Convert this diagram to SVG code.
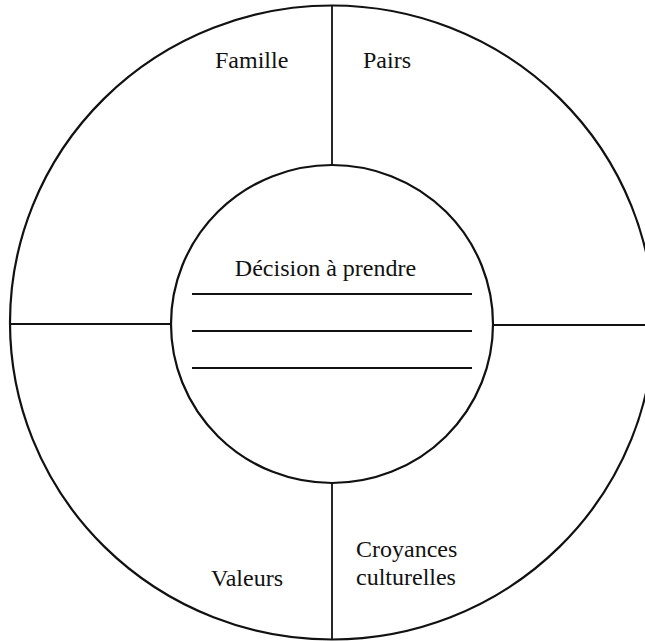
<svg xmlns="http://www.w3.org/2000/svg" width="645" height="641" viewBox="0 0 645 641">
<style>
.ring{fill:none;stroke:#111;stroke-width:2.2}
.ln{stroke:#111;stroke-width:1.8;fill:none}
.lbl{font-family:'Liberation Serif','Times New Roman',Tinos,'DejaVu Serif',serif;font-size:24px;fill:#111}
</style>
<rect width="645" height="641" fill="#fff"/>
<g id="outer-circle"><ellipse class="ring" cx="332" cy="322.5" rx="322" ry="317"/></g>
<g id="connectors">
<line class="ln" x1="332" y1="5" x2="332" y2="165"/>
<line class="ln" x1="332" y1="483" x2="332" y2="640"/>
<line class="ln" x1="10" y1="324" x2="171" y2="324"/>
<line class="ln" x1="493" y1="325" x2="645" y2="325"/>
</g>
<g id="famille"><text class="lbl" x="215" y="68">Famille</text></g>
<g id="pairs"><text class="lbl" x="363" y="68">Pairs</text></g>
<g id="valeurs"><text class="lbl" x="211" y="586">Valeurs</text></g>
<g id="croyances"><text class="lbl" x="356" y="557">Croyances</text><text class="lbl" x="356" y="585">culturelles</text></g>
<g id="decision">
<ellipse class="ring" cx="332" cy="324" rx="161" ry="159"/>
<text class="lbl" x="325.5" y="276" text-anchor="middle">Décision à prendre</text>
<line class="ln" x1="192" y1="294" x2="472" y2="294"/>
<line class="ln" x1="192" y1="331" x2="472" y2="331"/>
<line class="ln" x1="192" y1="368" x2="472" y2="368"/>
</g>
</svg>
